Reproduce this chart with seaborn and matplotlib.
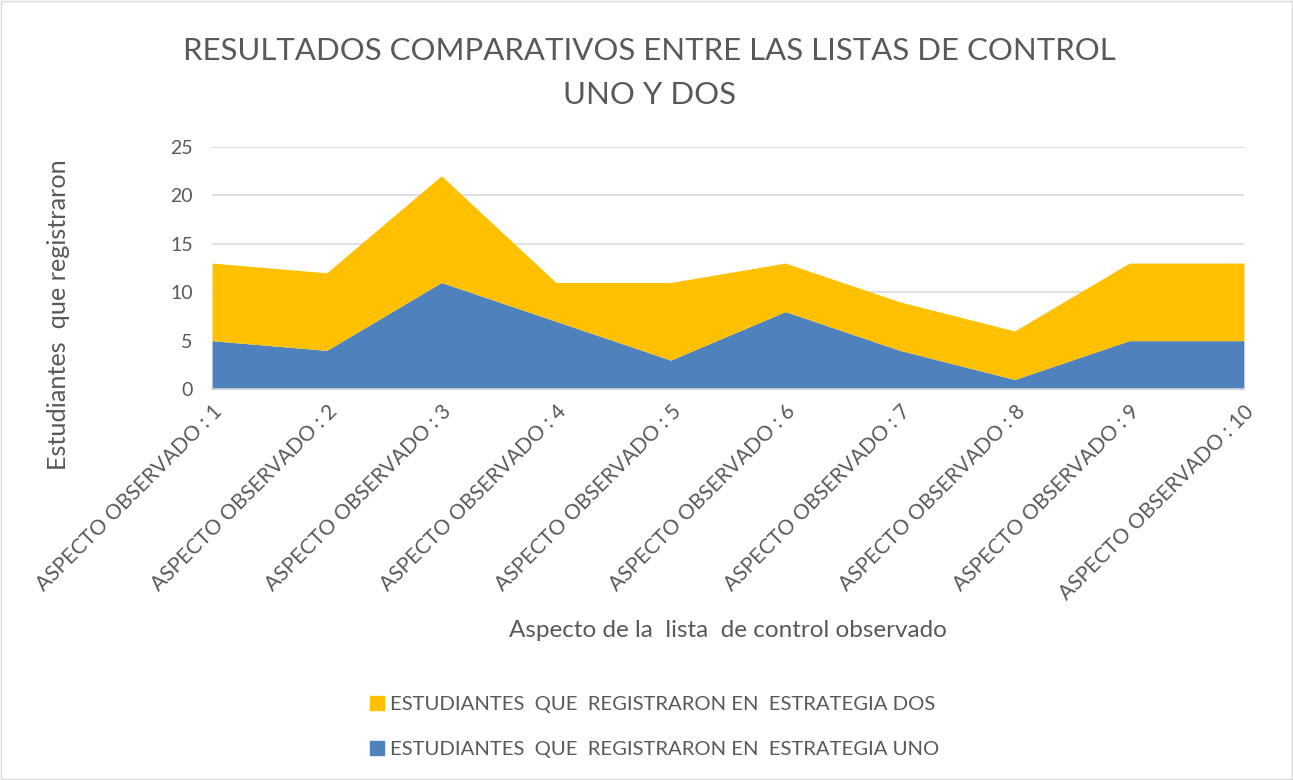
import matplotlib.pyplot as plt
import seaborn as sns
import pandas as pd
from matplotlib.patches import Patch

# -------------------------
# Data
# -------------------------

aspectos = [f"ASPECTO OBSERVADO : {i}" for i in range(1, 11)]

estrategia_uno = [5, 4, 11, 7, 3, 8, 4, 1, 5, 5]
estrategia_dos = [8, 8, 11, 4, 8, 5, 5, 5, 8, 8]

label_uno = "ESTUDIANTES  QUE  REGISTRARON EN  ESTRATEGIA UNO"
label_dos = "ESTUDIANTES  QUE  REGISTRARON EN  ESTRATEGIA DOS"

df = pd.DataFrame({"aspecto": aspectos, "uno": estrategia_uno, "dos": estrategia_dos})

blue = "#4f81bd"
gold = "#ffc000"
grey = "#595959"

sns.set_theme(style="white")
plt.rcParams["font.family"] = ["Lato", "DejaVu Sans"]

fig = plt.figure(figsize=(12.93, 7.8), dpi=100)
ax = fig.add_axes([0.164, 0.501, 0.798, 0.311])

x = list(range(len(df)))
ax.stackplot(x, df["uno"], df["dos"], colors=[blue, gold], linewidth=0)

ax.set_xlim(0, len(df) - 1)
ax.set_ylim(0, 25)
ax.set_yticks([0, 5, 10, 15, 20, 25])
ax.yaxis.grid(True, color="#d9d9d9", linewidth=1.2)
ax.set_axisbelow(True)

ax.set_xticks(x)
ax.set_xticklabels(df["aspecto"], rotation=45, ha="right", rotation_mode="anchor",
                   fontsize=15, color=grey)
ax.tick_params(axis="x", length=6, color="#d9d9d9", width=1, pad=3, direction="out")
ax.tick_params(axis="y", length=0, labelsize=14, labelcolor=grey, pad=14)

for s in ["top", "right", "left"]:
    ax.spines[s].set_visible(False)
ax.spines["bottom"].set_color("#d9d9d9")
ax.spines["bottom"].set_linewidth(1.2)

ax.set_xlabel("Aspecto de la  lista  de control observado", fontsize=17.5, color=grey, labelpad=11.5)

# y label placed by hand so it sits where the original does
fig.text(0.045, 0.596, "Estudiantes  que registraron", rotation=90,
         ha="center", va="center", fontsize=18.2, color=grey)

fig.text(0.502, 0.935, "RESULTADOS COMPARATIVOS ENTRE LAS LISTAS DE CONTROL",
         ha="center", va="center", fontsize=22.4, color=grey)
fig.text(0.502, 0.878, "UNO Y DOS", ha="center", va="center", fontsize=22.4, color=grey)

handles = [Patch(color=gold, label=label_dos), Patch(color=blue, label=label_uno)]
fig.legend(handles=handles, loc="center left", bbox_to_anchor=(0.272, 0.068),
           frameon=False, fontsize=14.6, labelcolor=grey, handlelength=0.7,
           handleheight=0.7, handletextpad=0.3, labelspacing=1.35)

fig.patches.append(plt.Rectangle((0.001, 0.001), 0.998, 0.998, transform=fig.transFigure,
                                 fill=False, edgecolor="#d9d9d9", linewidth=1))

plt.savefig("out.png", dpi=100)
